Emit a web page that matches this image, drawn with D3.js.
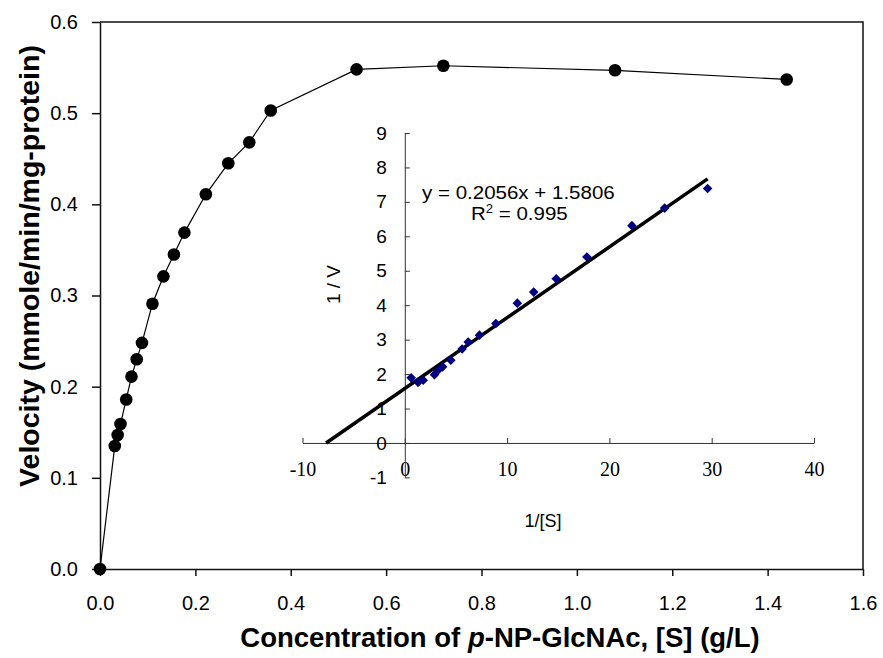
<!DOCTYPE html>
<html>
<head>
<meta charset="utf-8">
<script src="https://cdn.jsdelivr.net/npm/d3@7"></script>
<style>
  body { margin: 0; background: #fff; }
</style>
</head>
<body>
<div id="chart"></div>
<script>
// main curve: substrate concentration (g/L) vs velocity
var conc = [0, 0.031, 0.037, 0.043, 0.055, 0.066, 0.077, 0.088, 0.110, 0.133, 0.155, 0.177,
            0.222, 0.269, 0.313, 0.358, 0.538, 0.720, 1.080, 1.440];
var velocity = [0, 0.135, 0.147, 0.159, 0.186, 0.211, 0.230, 0.248, 0.291, 0.321, 0.345, 0.369,
                0.411, 0.445, 0.468, 0.503, 0.548, 0.552, 0.547, 0.537];
var xTicks = [0, 0.2, 0.4, 0.6, 0.8, 1.0, 1.2, 1.4, 1.6];
var yTicks = [0, 0.1, 0.2, 0.3, 0.4, 0.5, 0.6];

// inset: Lineweaver-Burk plot
var invS = [0.62, 1.3, 1.8, 2.9, 3.2, 3.7, 4.5, 5.6, 6.2, 7.3, 8.9, 11.0, 12.6, 14.8, 17.8, 22.2, 25.4, 29.6];
var invV = [1.89, 1.76, 1.82, 1.98, 2.10, 2.21, 2.40, 2.73, 2.93, 3.13, 3.47, 4.06, 4.38, 4.77, 5.40, 6.31, 6.82, 7.39];
var insetXTicks = [-10, 0, 10, 20, 30, 40];
var insetYTicks = [-1, 0, 1, 2, 3, 4, 5, 6, 7, 8, 9];
var slope = 0.2056, intercept = 1.5806;
var trendRange = [-7.69, 29.6];

var sans = 'Arial, "Liberation Sans", sans-serif';
var serif = '"Times New Roman", "Liberation Serif", serif';

var width = 883, height = 658;
var svg = d3.select('#chart').append('svg').attr('width', width).attr('height', height)
  .style('font-family', sans);

// ---------- main chart ----------
var x = d3.scaleLinear().domain([0, 1.6]).range([100, 863]);
var y = d3.scaleLinear().domain([0, 0.6]).range([569, 22]);

svg.append('g')
  .attr('transform', 'translate(0,' + y(0) + ')')
  .call(d3.axisBottom(x).tickValues(xTicks).tickFormat(d3.format('.1f')).tickSize(7).tickSizeOuter(0).tickPadding(20))
  .call(g => g.selectAll('text').attr('font-size', 20).style('font-family', sans).attr('fill', '#000'));

svg.append('g')
  .attr('transform', 'translate(' + x(0) + ',0)')
  .call(d3.axisLeft(y).tickValues(yTicks).tickFormat(d3.format('.1f')).tickSize(8).tickSizeOuter(0).tickPadding(14))
  .call(g => g.selectAll('text').attr('font-size', 20).style('font-family', sans).attr('fill', '#000'));

svg.selectAll('.domain, .tick line').attr('stroke', '#111').attr('stroke-width', 1.5);

// top and right frame
svg.append('path')
  .attr('d', 'M' + x(0) + ',' + y(0.6) + 'H' + x(1.6) + 'V' + y(0))
  .attr('fill', 'none').attr('stroke', '#111').attr('stroke-width', 1.5);

var pts = conc.map((c, i) => [c, velocity[i]]);
svg.append('path')
  .datum(pts)
  .attr('d', d3.line().x(d => x(d[0])).y(d => y(d[1])))
  .attr('fill', 'none').attr('stroke', '#000').attr('stroke-width', 1.2);

svg.selectAll('circle.pt')
  .data(pts)
  .enter().append('circle')
  .attr('class', 'pt')
  .attr('cx', d => x(d[0])).attr('cy', d => y(d[1])).attr('r', 6.3)
  .attr('fill', '#000');

svg.append('text')
  .attr('transform', 'translate(29,266) rotate(-90)')
  .attr('text-anchor', 'middle').attr('dominant-baseline', 'central')
  .attr('font-size', 28.5).attr('font-weight', 'bold')
  .text('Velocity (mmole/min/mg-protein)');

var xt = svg.append('text')
  .attr('x', 500).attr('y', 647)
  .attr('text-anchor', 'middle')
  .attr('font-size', 27.5).attr('font-weight', 'bold');
xt.append('tspan').text('Concentration of ');
xt.append('tspan').attr('font-style', 'italic').text('p');
xt.append('tspan').text('-NP-GlcNAc, [S] (g/L)');

// ---------- inset ----------
var xi = d3.scaleLinear().domain([-10, 40]).range([302.5, 814]);
var yi = d3.scaleLinear().domain([-1, 9]).range([477.4, 133]);

var inset = svg.append('g');

inset.append('g')
  .attr('transform', 'translate(0,' + yi(0) + ')')
  .call(d3.axisBottom(xi).tickValues(insetXTicks).tickFormat(d => String(d)).tickSize(-5).tickSizeOuter(0).tickPadding(19))
  .call(g => g.selectAll('text').attr('font-size', 20).style('font-family', serif).attr('fill', '#000'));

inset.append('g')
  .attr('transform', 'translate(' + xi(0) + ',0)')
  .call(d3.axisLeft(yi).tickValues(insetYTicks).tickFormat(d => String(d)).tickSize(-5).tickSizeOuter(0).tickPadding(18))
  .call(g => g.selectAll('text').attr('font-size', 19).style('font-family', sans).attr('fill', '#000'));

inset.selectAll('.domain, .tick line').attr('stroke', '#333').attr('stroke-width', 1);

inset.append('path')
  .attr('d', d3.line()(trendRange.map(v => [xi(v), yi(slope * v + intercept)])))
  .attr('stroke', '#000').attr('stroke-width', 3.5).attr('fill', 'none');

inset.selectAll('path.dia')
  .data(invS.map((s, i) => [s, invV[i]]))
  .enter().append('path')
  .attr('class', 'dia')
  .attr('transform', d => 'translate(' + xi(d[0]) + ',' + yi(d[1]) + ')')
  .attr('d', 'M0,-4.8L4.8,0L0,4.8L-4.8,0Z')
  .attr('fill', '#000080');

// trendline label, slightly wide like the source
inset.append('text')
  .attr('transform', 'translate(422,199) scale(1.08,1)')
  .attr('font-size', 19)
  .text('y = 0.2056x + 1.5806');

var r2 = inset.append('text')
  .attr('transform', 'translate(471,220) scale(1.08,1)')
  .attr('font-size', 19);
r2.append('tspan').text('R');
r2.append('tspan').attr('dy', -7).attr('font-size', 12).text('2');
r2.append('tspan').attr('dy', 7).text(' = 0.995');

inset.append('text')
  .attr('transform', 'translate(333,' + yi(4.6) + ') rotate(-90)')
  .attr('text-anchor', 'middle').attr('dominant-baseline', 'central')
  .attr('font-size', 19)
  .text('1 / V');

inset.append('text')
  .attr('x', 543).attr('y', 527)
  .attr('text-anchor', 'middle')
  .attr('font-size', 18)
  .text('1/[S]');
</script>
</body>
</html>
